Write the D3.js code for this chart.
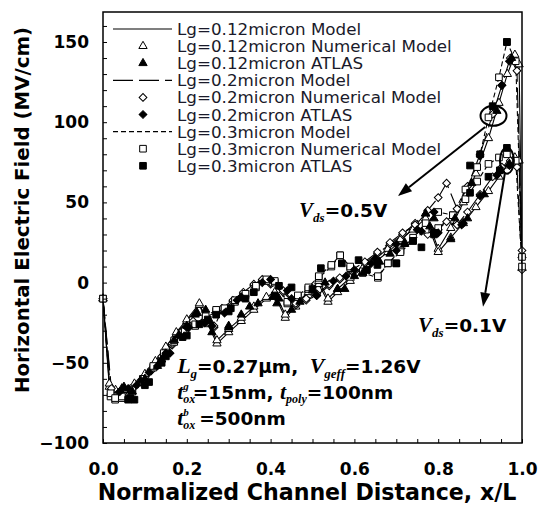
<!DOCTYPE html>
<html><head><meta charset="utf-8">
<script src="https://cdn.jsdelivr.net/npm/d3@7"></script>
<style>body{margin:0;background:#fff}svg{display:block}</style>
</head><body>
<svg id="c" width="539" height="506"></svg>
<script>
// ---------------- DATA ----------------
const xTickLabels = ["0.0","0.2","0.4","0.6","0.8","1.0"];
const xMajor = [0,0.2,0.4,0.6,0.8,1.0];
const yMajor = [-100,-50,0,50,100,150];
const yTickLabels = ["-100","-50","0","50","100","150"];

const legendLabels = [
  "Lg=0.12micron Model","Lg=0.12micron Numerical Model","Lg=0.12micron ATLAS",
  "Lg=0.2micron Model","Lg=0.2micron Numerical Model","Lg=0.2micron ATLAS",
  "Lg=0.3micron Model","Lg=0.3micron Numerical Model","Lg=0.3micron ATLAS"];

// Lg = 0.12 micron (model line passes through the numerical-model points)
const x012 = [0,0.015,0.03,0.05,0.075,0.1,0.125,0.15,0.175,0.2,0.23,0.25,0.272,0.3,0.33,0.36,0.39,0.41,0.435,0.46,0.49,0.515,0.537,0.56,0.59,0.62,0.65,0.68,0.71,0.74,0.77,0.80,0.83,0.86,0.89,0.92,0.945,0.965,0.983,0.993,1.0];
const y012_05 = [-10,-65,-68,-67,-64,-58,-50,-41,-32,-24,-14,-26,-38,-31,-24,-17,-10,-8,-22,-15,-8,-1,-12,-6,1,7,13,19,26,34,43,21,34,50,68,90,112,130,142,136,17];
const y012_01 = [-10,-63,-67,-66,-63,-57,-49,-40,-31,-23,-13,-25,-36,-29,-22,-15,-9,-6,-20,-13,-6,1,-10,-4,3,9,15,21,27,33,40,19,28,37,47,57,66,73,78,76,9];
// Lg = 0.2 micron
const x020 = [0,0.02,0.04,0.065,0.09,0.115,0.14,0.165,0.19,0.215,0.243,0.265,0.284,0.31,0.335,0.36,0.38,0.40,0.43,0.46,0.485,0.51,0.54,0.565,0.595,0.625,0.655,0.685,0.715,0.745,0.775,0.80,0.82,0.845,0.87,0.9,0.93,0.952,0.972,0.988,1.0];
const y020_05 = [-10,-68,-69,-67,-62,-55,-47,-39,-31,-25,-25,-28,-17,-12,-7,-2,1,-1,-6,-14,-11,-8,-2,2,7,12,18,24,30,37,45,53,62,46,60,80,105,123,140,132,20];
const y020_01 = [-10,-66,-68,-66,-61,-54,-46,-38,-30,-24,-24,-27,-16,-11,-6,-1,2,0,-5,-13,-10,-7,-1,3,8,13,19,25,31,36,30,33,38,36,44,55,66,72,76,72,8];
// Lg = 0.3 micron
const x030 = [0,0.018,0.029,0.045,0.07,0.095,0.12,0.145,0.17,0.195,0.22,0.245,0.27,0.29,0.315,0.34,0.365,0.39,0.41,0.44,0.465,0.49,0.515,0.545,0.566,0.59,0.62,0.656,0.68,0.71,0.74,0.77,0.80,0.835,0.865,0.893,0.92,0.945,0.964,0.985,1.0];
const y030_05 = [-10,-71,-73,-72,-68,-61,-53,-45,-37,-31,-27,-22,-18,-17,-12,-8,-3,1,0,-13,-9,-4,3,10,17,9,6,3,12,20,28,37,44,42,58,72,103,128,150,138,16];
const y030_01 = [-10,-69,-72,-71,-67,-60,-52,-44,-36,-30,-26,-21,-17,-16,-11,-7,-2,2,1,-12,-8,-3,4,11,17,10,7,4,12,19,26,33,34,42,52,63,74,78,80,76,10];

// ATLAS points
const atlas012_05x = [0.045,0.07,0.1,0.14,0.17,0.2,0.225,0.245,0.26,0.3,0.33,0.37,0.405,0.415,0.45,0.5,0.56,0.577,0.62,0.685,0.72,0.77,0.79,0.84,0.88,0.94,0.975];
const atlas012_05y = [-66,-68,-60,-48,-36,-27,-19,-17,-31,-27,-20,-13,-9,-13,-17,-5,-4,-4,6,18,25,43,40,40,62,107,140];
const atlas012_01x = [0.05,0.09,0.13,0.18,0.22,0.255,0.3,0.35,0.42,0.47,0.53,0.6,0.66,0.72,0.78,0.83,0.87,0.91,0.95,0.97];
const atlas012_01y = [-65,-61,-52,-33,-20,-24,-28,-15,-10,-12,0,4,13,24,35,27,40,55,70,74];
const atlas020_05x = [0.04,0.08,0.13,0.16,0.205,0.243,0.29,0.32,0.4,0.44,0.51,0.55,0.6,0.65,0.7,0.75,0.79,0.856,0.9,0.952,0.97];
const atlas020_05y = [-68,-64,-52,-44,-28,-25,-19,-11,2,-5,-8,1,8,15,24,33,44,36,79,123,138];
const atlas020_01x = [0.06,0.11,0.15,0.2,0.26,0.33,0.38,0.45,0.51,0.58,0.64,0.7,0.76,0.8,0.86,0.9,0.94,0.97];
const atlas020_01y = [-66,-56,-44,-28,-27,-9,0,-10,-8,4,12,20,32,31,37,54,67,73];
const atlas030_05x = [0.06,0.075,0.11,0.15,0.19,0.23,0.27,0.305,0.34,0.41,0.45,0.52,0.61,0.655,0.7,0.74,0.79,0.876,0.9,0.93,0.964];
const atlas030_05y = [-73,-73,-62,-46,-34,-26,-20,-16,-10,-8,-3,9,14,11,12,26,31,73,80,110,150];
const atlas030_01x = [0.065,0.1,0.14,0.2,0.25,0.3,0.36,0.42,0.5,0.57,0.63,0.7,0.76,0.79,0.876,0.92,0.947,0.964];
const atlas030_01y = [-72,-64,-50,-33,-23,-18,-6,-2,-4,12,8,12,22,30,56,66,70,84];

// ---------------- CHART ----------------
const svg = d3.select("#c");
const x = d3.scaleLinear().domain([0,1]).range([103,522]);
const y = d3.scaleLinear().domain([-100,168.7]).range([443,12]);
const SANS = "'DejaVu Sans', Verdana, sans-serif";
const SERIF = "'Liberation Serif', 'DejaVu Serif', serif";

const zip = (xs, ys) => xs.map((v,i)=>[v, ys[i]]);
const groups = [
  {dash:null, open:"tri", xs:x012, ys:[y012_05,y012_01], ax:[atlas012_05x,atlas012_01x], ay:[atlas012_05y,atlas012_01y]},
  {dash:"20,6", open:"dia", xs:x020, ys:[y020_05,y020_01], ax:[atlas020_05x,atlas020_01x], ay:[atlas020_05y,atlas020_01y]},
  {dash:"5,3", open:"sq", xs:x030, ys:[y030_05,y030_01], ax:[atlas030_05x,atlas030_01x], ay:[atlas030_05y,atlas030_01y]}
];

function sym(kind){
  if(kind==="tri") return d3.symbol().type(d3.symbolTriangle).size(30)();
  if(kind==="dia") return d3.symbol().type(d3.symbolSquare).size(30)();
  return d3.symbol().type(d3.symbolSquare).size(44)();
}
function drawMark(g, kind, px, py, filled){
  g.append("path").attr("d", sym(kind))
    .attr("transform", `translate(${px},${py})` + (kind==="dia" ? " rotate(45)" : ""))
    .attr("fill", filled ? "#000" : "#fff").attr("stroke","#000").attr("stroke-width",1);
}

svg.append("clipPath").attr("id","clip").append("rect")
  .attr("x",103).attr("y",12).attr("width",419).attr("height",431);

const plot = svg.append("g").attr("clip-path","url(#clip)");
const line = d3.line().x(d=>x(d[0])).y(d=>y(d[1]));

groups.forEach(gr=>{
  gr.ys.forEach(ys=>{
    plot.append("path").datum(zip(gr.xs, ys)).attr("d", line)
      .attr("fill","none").attr("stroke","#000").attr("stroke-width",1.1)
      .attr("stroke-dasharray", gr.dash);
  });
});
const mk = svg.append("g");
groups.forEach(gr=>{
  gr.ys.forEach(ys=>{
    zip(gr.xs, ys).forEach(d=>drawMark(mk, gr.open, x(d[0]), y(d[1]), false));
  });
});
groups.forEach(gr=>{
  [0,1].forEach(k=>{
    zip(gr.ax[k], gr.ay[k]).forEach(d=>drawMark(mk, gr.open, x(d[0]), y(d[1]), true));
  });
});

// frame
svg.append("rect").attr("x",103).attr("y",12).attr("width",419).attr("height",431)
  .attr("fill","none").attr("stroke","#000").attr("stroke-width",1.5);

// inward ticks
const xMinor = d3.range(0,1.0001,0.05);
const yMinor = d3.range(-100,168,10);
svg.append("g").attr("transform","translate(0,443)")
  .call(d3.axisBottom(x).tickValues(xMinor).tickSize(-4).tickFormat(""))
  .call(g=>g.select(".domain").remove());
svg.append("g").attr("transform","translate(103,0)")
  .call(d3.axisLeft(y).tickValues(yMinor).tickSize(-4).tickFormat(""))
  .call(g=>g.select(".domain").remove());
svg.selectAll(".tick line").attr("stroke","#000").attr("stroke-width",1);

// tick labels
const xl = svg.append("g").attr("transform","translate(0,443)")
  .call(d3.axisBottom(x).tickValues(xMajor).tickSize(0).tickPadding(20).tickFormat((d,i)=>xTickLabels[i]));
xl.select(".domain").remove();
xl.selectAll("text").attr("font-family",SANS).attr("font-weight","bold").attr("font-size",17).attr("fill","#000");
const yl = svg.append("g").attr("transform","translate(103,0)")
  .call(d3.axisLeft(y).tickValues(yMajor).tickSize(0).tickPadding(14).tickFormat((d,i)=>yTickLabels[i].replace("-","\u2212")));
yl.select(".domain").remove();
yl.selectAll("text").attr("font-family",SANS).attr("font-weight","bold").attr("font-size",17).attr("fill","#000");

// axis titles
function fitText(t, target){
  const w = t.node().getComputedTextLength();
  const fs = parseFloat(t.attr("font-size"));
  t.attr("font-size", fs*target/w);
}
const xt = svg.append("text").attr("x",307).attr("y",500).attr("text-anchor","middle")
  .attr("font-family",SANS).attr("font-weight","bold").attr("font-size",19)
  .text("Normalized Channel Distance, x/L");
fitText(xt, 419);
const yt = svg.append("text").attr("transform","translate(29,210) rotate(-90)").attr("text-anchor","middle")
  .attr("font-family",SANS).attr("font-weight","bold").attr("font-size",18)
  .text("Horizontal Electric Field (MV/cm)");
fitText(yt, 366);

// legend
const lg = svg.append("g");
const legKinds = [];
groups.forEach(gr=>{ legKinds.push({t:"line",dash:gr.dash}); legKinds.push({t:"open",k:gr.open}); legKinds.push({t:"fill",k:gr.open}); });
const legTexts = [];
legendLabels.forEach((lab,i)=>{
  const cy = 29 + i*17.1;
  const k = legKinds[i];
  if(k.t==="line"){
    lg.append("line").attr("x1",113).attr("x2",172).attr("y1",cy).attr("y2",cy)
      .attr("stroke","#000").attr("stroke-width",1.2).attr("stroke-dasharray",k.dash);
  } else {
    drawMark(lg, k.k, 143, cy, k.t==="fill");
  }
  legTexts.push(lg.append("text").attr("x",177).attr("y",cy+6).attr("font-family",SANS)
    .attr("font-size",16).attr("fill","#1a1a2a").text(lab));
});
{ const w = legTexts[1].node().getComputedTextLength(); const fs = 16*275/w; legTexts.forEach(t=>t.attr("font-size",fs)); }

// annotations
const ann = svg.append("g");
ann.append("ellipse").attr("cx",x(0.932)).attr("cy",y(104)).attr("rx",13).attr("ry",10)
  .attr("fill","none").attr("stroke","#000").attr("stroke-width",2);
ann.append("ellipse").attr("cx",x(0.964)).attr("cy",y(76)).attr("rx",7).attr("ry",13)
  .attr("fill","none").attr("stroke","#000").attr("stroke-width",2);
function arrow(x1,y1,x2,y2){
  const X1=x(x1),Y1=y(y1),X2=x(x2),Y2=y(y2);
  const a=Math.atan2(Y2-Y1,X2-X1), L=14, hw=5;
  const bx=X2-L*Math.cos(a), by=Y2-L*Math.sin(a);
  ann.append("line").attr("x1",X1).attr("y1",Y1).attr("x2",bx).attr("y2",by).attr("stroke","#000").attr("stroke-width",2);
  ann.append("path").attr("d",`M${X2},${Y2}L${bx+hw*Math.sin(a)},${by-hw*Math.cos(a)}L${bx-hw*Math.sin(a)},${by+hw*Math.cos(a)}Z`).attr("fill","#000");
}
arrow(0.912,97,0.704,54);
arrow(0.959,68,0.907,-15);

function richText(px,py,parts,fs){
  const t = ann.append("text").attr("x",px).attr("y",py).attr("font-size",fs).attr("font-weight","bold").attr("fill","#000");
  parts.forEach(p=>{
    const s=t.append("tspan").text(p.s);
    if(p.it){ s.attr("font-family",SERIF).attr("font-style","italic"); } else { s.attr("font-family",SANS); }
    if(p.fs) s.attr("font-size",p.fs);
    if(p.dy) s.attr("dy",p.dy);
    if(p.dx) s.attr("dx",p.dx);
  });
  return t;
}
richText(x(0.468),y(41),[{s:"V",it:1,fs:21},{s:"ds",it:1,fs:13,dy:5},{s:"=0.5V",dy:-5}],18.5);
richText(x(0.752),y(-31),[{s:"V",it:1,fs:21},{s:"ds",it:1,fs:13,dy:5},{s:"=0.1V",dy:-5}],18.5);
richText(x(0.177),y(-56.5),[{s:"L",it:1,fs:22},{s:"g",it:1,fs:13,dy:5},{s:"=0.27\u03bcm, ",dy:-5},{s:"V",it:1,fs:22,dx:5},{s:"geff",it:1,fs:13,dy:5},{s:"=1.26V",dy:-5}],18.5);
richText(x(0.177),y(-72.5),[{s:"t",it:1,fs:22},{s:"ox",it:1,fs:12,dy:4},{s:"g",it:1,fs:11,dy:-13,dx:-12},{s:"=15nm, ",dy:9,dx:4},{s:"t",it:1,fs:22},{s:"poly",it:1,fs:12,dy:4},{s:"=100nm",dy:-4}],18.5);
richText(x(0.177),y(-88.5),[{s:"t",it:1,fs:22},{s:"ox",it:1,fs:12,dy:4},{s:"b",it:1,fs:11,dy:-13,dx:-12},{s:" =500nm",dy:9,dx:4}],18.5);
</script>
</body></html>
